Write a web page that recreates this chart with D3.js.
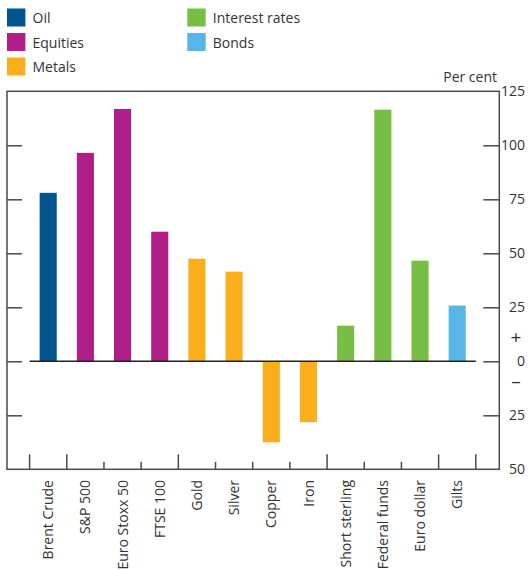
<!DOCTYPE html>
<html><head><meta charset="utf-8">
<script src="https://cdn.jsdelivr.net/npm/d3@7"></script>
<style>body{margin:0;background:#fff} text{font-family:"Open Sans",sans-serif;fill:#333}</style>
</head><body><svg id="c" width="528" height="570"></svg>
<script>
const categories = ["Brent Crude","S&P 500","Euro Stoxx 50","FTSE 100","Gold","Silver","Copper","Iron","Short sterling","Federal funds","Euro dollar","Gilts"];
const values = [78, 96.5, 116.8, 60, 47.5, 41.5, -37.5, -28.2, 16.5, 116.5, 46.6, 25.8];
const groups = ["Oil","Equities","Equities","Equities","Metals","Metals","Metals","Metals","Interest rates","Interest rates","Interest rates","Bonds"];
const legendNames = ["Oil","Equities","Metals","Interest rates","Bonds"];
const legendColors = ["#00558F","#B01E87","#FAAE1B","#77BE44","#57B6E5"];
const yTicks = [125,100,75,50,25,0,-25,-50];

const svg = d3.select("#c");
const color = d3.scaleOrdinal().domain(legendNames).range(legendColors);
const L = 7, R = 499.3, T = 91.3, B = 469.3;
const x = d3.scaleBand().domain(categories).range([29.6, 475.8]).paddingInner(0.54).paddingOuter(0.27);
const y = d3.scaleLinear().domain([-50,125]).range([B, T]);
const inner = yTicks.filter(v => v !== 125 && v !== -50);

// frame
svg.append("rect").attr("x", L).attr("y", T).attr("width", R - L).attr("height", B - T)
  .attr("fill", "none").attr("stroke", "#4a4a4a").attr("stroke-width", 1.5);

// left ticks (inward)
const la = svg.append("g").attr("transform", `translate(${L},0)`)
  .call(d3.axisRight(y).tickValues(inner).tickSize(15).tickFormat(""));
la.select(".domain").remove();
la.selectAll("line").attr("stroke", "#4a4a4a").attr("stroke-width", 1.5);
// right ticks (inward)
const ra = svg.append("g").attr("transform", `translate(${R},0)`)
  .call(d3.axisLeft(y).tickValues(inner).tickSize(16).tickFormat(""));
ra.select(".domain").remove();
ra.selectAll("line").attr("stroke", "#4a4a4a").attr("stroke-width", 1.5);

// right labels
svg.append("g").selectAll("text").data(yTicks).join("text")
  .attr("x", 525).attr("y", d => y(d)).attr("dy", "0.36em")
  .attr("text-anchor", "end").attr("font-size", 14).text(d => Math.abs(d));
svg.append("text").attr("x", 516).attr("y", y(11)).attr("dy", "0.36em").attr("text-anchor", "middle").attr("font-size", 19).text("+");
svg.append("text").attr("x", 516).attr("y", y(-9)).attr("dy", "0.36em").attr("text-anchor", "middle").attr("font-size", 19).text("–");
svg.append("text").attr("x", 497).attr("y", 82).attr("text-anchor", "end").attr("font-size", 14).text("Per cent");

// bottom category ticks
const step = x.step();
const x0 = x.range()[0];
const bounds = d3.range(categories.length + 1);
svg.append("g").selectAll("line").data(bounds).join("line")
  .attr("x1", i => x0 + i * step).attr("x2", i => x0 + i * step)
  .attr("y1", i => (i === 0 || i === categories.length || groups[i-1] !== groups[i]) ? B - 15 : B - 7.5)
  .attr("y2", B).attr("stroke", "#4a4a4a").attr("stroke-width", 1.5);

// bars
svg.append("g").selectAll("rect").data(categories).join("rect")
  .attr("x", d => x(d)).attr("width", x.bandwidth())
  .attr("y", (d, i) => y(Math.max(0, values[i])))
  .attr("height", (d, i) => Math.abs(y(values[i]) - y(0)))
  .attr("fill", (d, i) => color(groups[i]));

// zero line
svg.append("line").attr("x1", x.range()[0]).attr("x2", x.range()[1])
  .attr("y1", y(0)).attr("y2", y(0)).attr("stroke", "#222").attr("stroke-width", 1.5);

// category labels
svg.append("g").selectAll("text").data(categories).join("text")
  .attr("transform", d => `translate(${x(d) + x.bandwidth()/2},480) rotate(-90)`)
  .attr("dy", "0.36em").attr("text-anchor", "end").attr("font-size", 14).text(d => d);

// legend
const lg = svg.append("g").selectAll("g").data(legendNames).join("g")
  .attr("transform", (d, i) => `translate(${i < 3 ? 7 : 187.3},${8.5 + (i < 3 ? i : i - 3) * 24.5})`);
lg.append("rect").attr("width", 18.4).attr("height", 18).attr("fill", d => color(d));
lg.append("text").attr("x", 25.5).attr("y", 14.5).attr("font-size", 14).text(d => d);
</script></body></html>
